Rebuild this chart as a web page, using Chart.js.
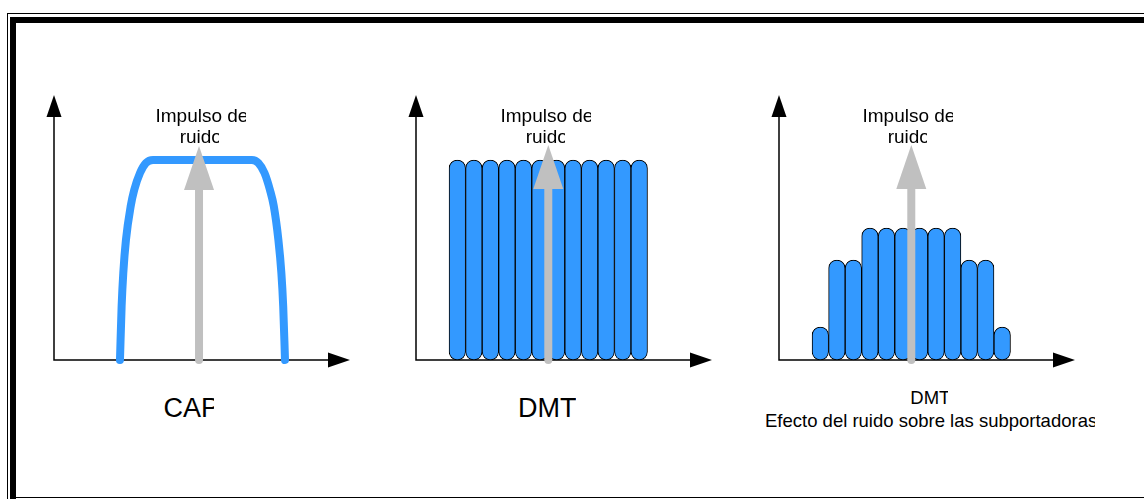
<!DOCTYPE html>
<html>
<head>
<meta charset="utf-8">
<script src="https://cdn.jsdelivr.net/npm/chart.js@4"></script>
<style>
body { margin: 0; background: #fff; width: 1144px; height: 499px; overflow: hidden; position: relative; font-family: "Liberation Sans", Arial, sans-serif; }
.box { position: absolute; }
.lbl { position: absolute; white-space: nowrap; overflow: hidden; color: #000; }
.small { font-size: 19px; line-height: 21px; }
.big { font-size: 27px; line-height: 30px; }
.mid { font-size: 18.5px; line-height: 22px; }
</style>
</head>
<body>
<!-- frame -->
<div class="box" style="left:7px;top:13px;width:1200px;height:600px;border-left:1px solid #000;border-top:1px solid #000;"></div>
<div class="box" style="left:10px;top:17px;width:1200px;height:600px;border-left:6px solid #000;border-top:6px solid #000;"></div>
<div class="box" style="left:16px;top:497px;width:1200px;height:0;border-top:1px solid #000;"></div>

<div class="box" style="left:30px;top:80px;width:340px;height:300px"><canvas id="chartCap"></canvas></div>
<div class="box" style="left:392px;top:80px;width:340px;height:300px"><canvas id="chartDmt"></canvas></div>
<div class="box" style="left:755px;top:80px;width:340px;height:300px"><canvas id="chartNoise"></canvas></div>

<div class="lbl small" style="left:155.5px;top:105.4px;width:90.5px">Impulso de</div>
<div class="lbl small" style="left:179.7px;top:126.4px;width:39.3px">ruido</div>
<div class="lbl big" style="left:163.5px;top:393px;width:50px">CAP</div>

<div class="lbl small" style="left:500.5px;top:105.4px;width:90.5px">Impulso de</div>
<div class="lbl small" style="left:525.7px;top:126.4px;width:39.3px">ruido</div>
<div class="lbl big" style="left:518px;top:393px">DMT</div>

<div class="lbl small" style="left:862.5px;top:105.4px;width:90.5px">Impulso de</div>
<div class="lbl small" style="left:887.7px;top:126.4px;width:39.3px">ruido</div>
<div class="lbl mid" style="left:910.3px;top:387px;width:38px">DMT</div>
<div class="lbl mid" style="left:765px;top:409.5px;width:330px">Efecto del ruido sobre las subportadoras</div>

<script>
// CAP spectrum (frequency, relative level)
var capFreq = [2.49, 2.59, 2.69, 2.85, 3.14, 3.35, 3.70, 4.06, 4.49, 10.47, 10.86, 11.23, 11.56, 11.79, 12.07, 12.25, 12.36, 12.47];
var capLevel = [0, 0.27, 0.435, 0.60, 0.77, 0.85, 0.935, 0.985, 1, 1, 0.985, 0.935, 0.85, 0.77, 0.60, 0.435, 0.27, 0];

// DMT subcarriers
var subcarriers = [1, 2, 3, 4, 5, 6, 7, 8, 9, 10, 11, 12];
var dmtLevels = [1, 1, 1, 1, 1, 1, 1, 1, 1, 1, 1, 1];
var noisyLevels = [0.165, 0.5, 0.5, 0.66, 0.66, 0.66, 0.66, 0.66, 0.66, 0.5, 0.5, 0.165];

// noise impulse for each panel
var impulseFreq = [7.27, 6.5, 6.5];
var impulseLevel = [1.07, 1.075, 1.075];

var BLUE = '#3399ff';
var GREY = '#c0c0c0';

var axisArrows = {
    id: 'axisArrows',
    beforeDatasetsDraw: function(chart) {
        var a = chart.chartArea, c = chart.ctx;
        var x0 = a.left, y0 = a.bottom;
        c.save();
        c.strokeStyle = '#000';
        c.fillStyle = '#000';
        c.lineWidth = 1.5;
        c.beginPath();
        c.moveTo(x0, a.top + 20);
        c.lineTo(x0, y0);
        c.lineTo(a.right - 20, y0);
        c.stroke();
        c.beginPath();
        c.moveTo(x0, a.top);
        c.lineTo(x0 - 7.5, a.top + 22);
        c.lineTo(x0 + 7.5, a.top + 22);
        c.closePath();
        c.fill();
        c.beginPath();
        c.moveTo(a.right, y0);
        c.lineTo(a.right - 22, y0 - 7.5);
        c.lineTo(a.right - 22, y0 + 7.5);
        c.closePath();
        c.fill();
        c.restore();
    }
};

var impulse = {
    id: 'impulse',
    afterDatasetsDraw: function(chart, args, opts) {
        var c = chart.ctx;
        var px = chart.scales.x.getPixelForValue(opts.freq);
        var tip = chart.scales.y.getPixelForValue(opts.level);
        var base = chart.scales.y.getPixelForValue(0);
        c.save();
        c.strokeStyle = GREY;
        c.fillStyle = GREY;
        c.lineWidth = 8;
        c.lineCap = 'round';
        c.beginPath();
        c.moveTo(px, base);
        c.lineTo(px, tip + 40);
        c.stroke();
        c.beginPath();
        c.moveTo(px, tip);
        c.lineTo(px - 15, tip + 44);
        c.lineTo(px + 15, tip + 44);
        c.closePath();
        c.fill();
        c.restore();
    }
};

function options(i) {
    return {
        responsive: true,
        maintainAspectRatio: false,
        animation: false,
        events: [],
        layout: { padding: { left: 24, top: 15, right: 20, bottom: 20 } },
        scales: {
            x: { type: 'linear', min: -1.5, max: 16.4, offset: false, display: false },
            y: { min: 0, max: 1.325, display: false }
        },
        plugins: {
            legend: { display: false },
            tooltip: { enabled: false },
            impulse: { freq: impulseFreq[i], level: impulseLevel[i] }
        }
    };
}

function barSet(levels) {
    return {
        data: subcarriers.map(function(k, i) { return { x: k, y: levels[i] }; }),
        backgroundColor: BLUE,
        borderColor: '#000',
        borderWidth: 1,
        borderRadius: 10,
        borderSkipped: false,
        barPercentage: 1,
        categoryPercentage: 1,
        clip: false
    };
}

new Chart(document.getElementById('chartCap'), {
    type: 'line',
    data: {
        datasets: [{
            data: capFreq.map(function(f, i) { return { x: f, y: capLevel[i] }; }),
            borderColor: BLUE,
            borderWidth: 8,
            borderCapStyle: 'round',
            borderJoinStyle: 'round',
            cubicInterpolationMode: 'monotone',
            pointRadius: 0,
            fill: false,
            clip: false
        }]
    },
    options: options(0),
    plugins: [axisArrows, impulse]
});

new Chart(document.getElementById('chartDmt'), {
    type: 'bar',
    data: { datasets: [barSet(dmtLevels)] },
    options: options(1),
    plugins: [axisArrows, impulse]
});

new Chart(document.getElementById('chartNoise'), {
    type: 'bar',
    data: { datasets: [barSet(noisyLevels)] },
    options: options(2),
    plugins: [axisArrows, impulse]
});
</script>
</body>
</html>
